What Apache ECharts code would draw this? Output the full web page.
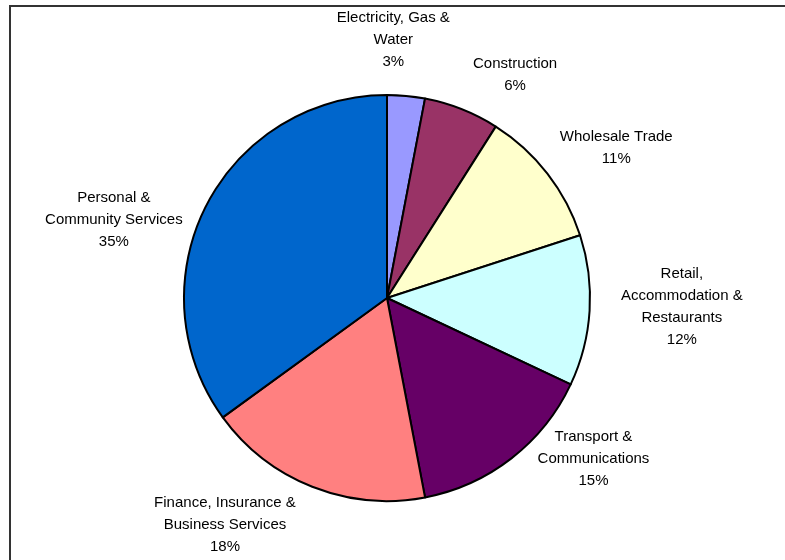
<!DOCTYPE html>
<html>
<head>
<meta charset="utf-8">
<script src="https://cdn.jsdelivr.net/npm/echarts@6/dist/echarts.min.js"></script>
<style>
  html, body { margin: 0; padding: 0; background: #fff; }
  #chart { width: 785px; height: 560px; }
</style>
</head>
<body>
<div id="chart"></div>
<script>
// Industry shares (%), in drawing order clockwise from 12 o'clock
const categories = [
  'Electricity, Gas &\nWater',
  'Construction',
  'Wholesale Trade',
  'Retail,\nAccommodation &\nRestaurants',
  'Transport &\nCommunications',
  'Finance, Insurance &\nBusiness Services',
  'Personal &\nCommunity Services'
];
const shares = [3, 6, 11, 12, 15, 18, 35];
const sliceColors = ['#9999FF', '#993366', '#FFFFCC', '#CCFFFF', '#660066', '#FF8080', '#0066CC'];

// Label placement: angular nudge from the slice's mid-angle (degrees)
// and how far the label's centre sits beyond the rim (px)
const labelTurn = [-4, 8.3, 4.6, -1.8, -14.2, 13.9, -11.1];
const labelReach = [55, 54, 71, 92, 59, 76, 81];

const CX = 387, CY = 298, R = 203;
const total = shares.reduce((a, b) => a + b, 0);

// mid-angle of each slice (degrees, clockwise from the top)
const midAngles = [];
let acc = 0;
shares.forEach(v => {
  midAngles.push(((acc + v / 2) / total) * 360);
  acc += v;
});

const chart = echarts.init(document.getElementById('chart'));
chart.setOption({
  animation: false,
  graphic: [{
    type: 'rect',
    shape: { x: 10, y: 6, width: 900, height: 700 },
    style: { fill: 'none', stroke: '#333', lineWidth: 2 },
    silent: true
  }],
  series: [{
    type: 'pie',
    center: [CX, CY],
    radius: R,
    startAngle: 90,
    clockwise: true,
    avoidLabelOverlap: false,
    data: categories.map((name, i) => ({
      name, value: shares[i], itemStyle: { color: sliceColors[i] }
    })),
    itemStyle: { borderColor: '#000', borderWidth: 2 },
    label: {
      show: true,
      position: 'outside',
      formatter: '{b}\n{d}%',
      fontFamily: 'Liberation Sans, Arial, sans-serif',
      fontSize: 15,
      lineHeight: 22,
      color: '#000'
    },
    labelLine: { show: false },
    labelLayout: function (p) {
      const i = p.dataIndex;
      const a = (midAngles[i] + labelTurn[i]) * Math.PI / 180;
      const d = R + labelReach[i];
      return {
        x: CX + d * Math.sin(a),
        y: CY - d * Math.cos(a),
        align: 'center',
        verticalAlign: 'middle'
      };
    }
  }]
});
</script>
</body>
</html>
